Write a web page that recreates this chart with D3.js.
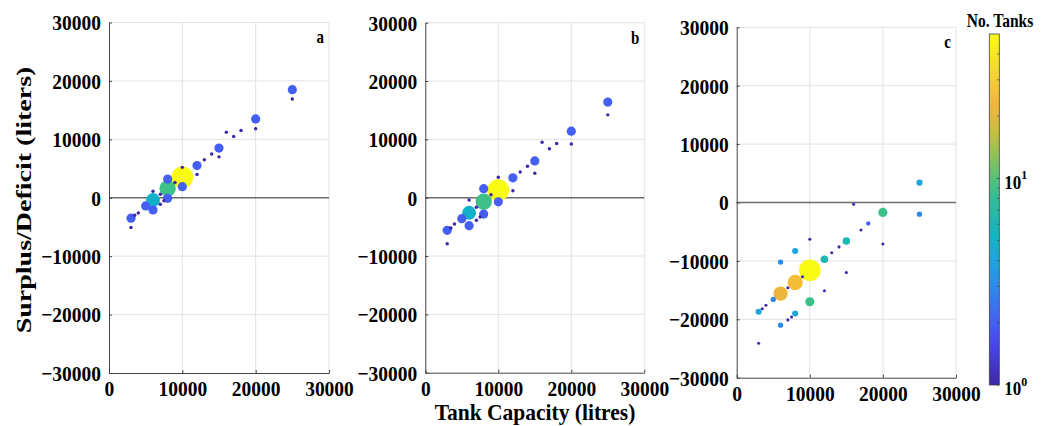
<!DOCTYPE html>
<html>
<head>
<meta charset="utf-8">
<script src="https://cdn.jsdelivr.net/npm/d3@7"></script>
<style>
  body { margin: 0; background: #fff; }
  svg { display: block; }
  text { font-family: "Liberation Serif", "Times New Roman", serif; font-weight: bold; fill: #000; }
</style>
</head>
<body>
<div class="canvas"></div>
<script>
// tank capacity (litres), surplus/deficit (litres), number of tanks
const capA = [3000,3000,3500,4000,5000,6000,6000,6000,7000,7000,7500,8000,8000,8000,9000,10000,10000,10000,12000,12000,13000,14000,15000,15000,16000,17000,18000,20000,20000,25000,25000];
const valA = [-3500,-5100,-3000,-2600,-1400,-2100,-400,1100,-1100,600,-500,3200,1600,-100,2600,5200,3500,1900,5500,4000,6500,7500,8500,7000,11200,10500,11500,13500,11800,18500,16900];
const nA   = [2,1,1,1,2,2,5,1,1,1,1,2,9,2,1,1,50,2,2,1,1,1,2,1,1,1,1,2,1,2,1];

const capB = [3000,3000,3500,4000,5000,6000,6000,6000,7000,7000,7500,8000,8000,8000,9000,10000,10000,10000,12000,12000,13000,14000,15000,15000,16000,17000,18000,20000,20000,25000,25000];
const valB = [-5600,-7900,-5200,-4500,-3600,-4800,-2600,-400,-3850,-1650,-3300,-2800,-700,1550,500,3500,1300,-700,3400,1200,4400,5400,6300,4200,9500,8400,9300,11400,9200,16400,14200];
const nB   = [2,1,1,1,2,2,5,1,1,1,1,2,9,2,1,1,50,2,2,1,1,1,2,1,1,1,1,2,1,2,1];

const capC = [3000,3000,3500,4000,5000,6000,6000,6000,7000,7500,7000,8000,8000,8000,9000,10000,10000,10000,12000,12000,13000,14000,15000,15000,16000,17000,18000,20000,20000,25000,25000];
const valC = [-18700,-24100,-18200,-17600,-16600,-10200,-15600,-21000,-14600,-19600,-20100,-8300,-13700,-19000,-12700,-6300,-11600,-17000,-9700,-15100,-8600,-7600,-6600,-12000,-300,-4700,-3600,-1700,-7100,3400,-2000];
const nC   = [4,1,1,1,3,3,22,3,1,1,1,4,25,4,1,1,50,9,6,1,1,1,6,1,1,1,2,9,1,4,3];

const xTicks = [0, 10000, 20000, 30000];
const yTicks = [-30000, -20000, -10000, 0, 10000, 20000, 30000];
const cbMajor = [1, 10];
const cbMinor = [2, 3, 4, 5, 6, 7, 8, 9, 20, 30, 40];
const panelLetters = ['a', 'b', 'c'];

const W = 1045, H = 426;
const tickStretch = 1.1;

const svg = d3.select('.canvas').append('svg')
    .attr('width', W)
    .attr('height', H);

// parula-like colormap
const parula = d3.scaleLinear()
    .domain([0, 0.1, 0.18, 0.28, 0.35, 0.42, 0.47, 0.56, 0.65, 0.72, 0.8, 0.9, 1])
    .range(['#3e26a8','#4642e6','#4560f4','#2d8aed','#1ea5e0','#12b3c6','#1cb8b0','#3fc08a','#8cc358','#c7bf3e','#f2b53c','#f6d830','#f9fb15'])
    .clamp(true);
const cNorm = d3.scaleLog().domain([1, 50]).range([0, 1]).clamp(true);
const colour = n => parula(cNorm(n));

// marker area: panels a,b grow with log(count), panel c with count
const areaLog = d3.scaleLinear().domain([0, Math.log10(50)]).range([0, 119]);
const rLog = n => Math.sqrt(Math.max(3, areaLog(Math.log10(n))));
const rLin = d3.scaleSqrt().domain([0, 50]).range([0, 10.8]);

const panels = [
  { cap: capA, val: valA, n: nA, box: [109, 329, 22.5, 373], r: rLog },
  { cap: capB, val: valB, n: nB, box: [425.3, 644.3, 22.7, 372.7], r: rLog },
  { cap: capC, val: valC, n: nC, box: [736.7, 956, 27.3, 377.7], r: d => rLin(d) }
];

panels.forEach((p, i) => {
  const [l, r, t, b] = p.box;
  const x = d3.scaleLinear().domain([0, 30000]).range([l, r]);
  const y = d3.scaleLinear().domain([-30000, 30000]).range([b, t]);
  const g = svg.append('g');

  // grid
  g.selectAll('.gx').data(xTicks.slice(1)).enter().append('line')
    .attr('x1', d => x(d)).attr('x2', d => x(d))
    .attr('y1', t).attr('y2', b)
    .attr('stroke', '#e2e2e2').attr('stroke-width', 1);
  g.selectAll('.gy').data(yTicks.filter(d => d !== -30000)).enter().append('line')
    .attr('x1', l).attr('x2', r)
    .attr('y1', d => y(d)).attr('y2', d => y(d))
    .attr('stroke', '#e2e2e2').attr('stroke-width', 1);

  // zero line
  g.append('line')
    .attr('x1', x(0)).attr('x2', x(30000))
    .attr('y1', y(0)).attr('y2', y(0))
    .attr('stroke', '#6e6e6e').attr('stroke-width', 1.5);

  // axes
  const ya = g.append('g').attr('transform', `translate(${l},0)`)
    .call(d3.axisLeft(y).tickValues(yTicks).tickSizeInner(-3).tickSizeOuter(0).tickPadding(8).tickFormat(d3.format('d')));
  const xa = g.append('g').attr('transform', `translate(0,${b})`)
    .call(d3.axisBottom(x).tickValues(xTicks).tickSizeInner(-3).tickSizeOuter(0).tickFormat(d3.format('d')));
  [ya, xa].forEach(a => {
    a.attr('font-family', null).attr('font-size', null);
    a.select('.domain').attr('stroke', '#444');
    a.selectAll('.tick line').attr('stroke', '#444');
    a.selectAll('text').style('font-size', '19.5px')
      .attr('dy', null).attr('dominant-baseline', 'central');
  });
  ya.selectAll('text').attr('transform', `scale(1,${tickStretch})`);
  xa.selectAll('text').attr('y', null).attr('transform', `translate(0,15.5) scale(1,${tickStretch})`);

  // points, biggest first so small ones stay visible
  const pts = p.cap.map((c, k) => ({ c, v: p.val[k], n: p.n[k] }))
    .sort((u, w) => w.n - u.n);
  g.selectAll('.pt').data(pts).enter().append('circle')
    .attr('class', 'pt')
    .attr('cx', d => x(d.c))
    .attr('cy', d => y(d.v))
    .attr('r', d => p.r(d.n))
    .attr('fill', d => colour(d.n));

  // panel letter
  g.append('text')
    .attr('transform', `translate(${r - 5},${t + 15}) scale(1,1.2)`)
    .attr('text-anchor', 'end')
    .attr('dominant-baseline', 'central')
    .style('font-size', '15px')
    .text(panelLetters[i]);
});

// axis titles
svg.append('text')
  .attr('transform', `translate(24,200) scale(1,1.4) rotate(-90)`)
  .attr('text-anchor', 'middle')
  .attr('dominant-baseline', 'central')
  .style('font-size', '20px')
  .text('Surplus/Deficit (liters)');

svg.append('text')
  .attr('transform', `translate(535,412) scale(1,1.1)`)
  .attr('text-anchor', 'middle')
  .attr('dominant-baseline', 'central')
  .style('font-size', '21.5px')
  .text('Tank Capacity (litres)');

// colour bar
const cb = { l: 989.3, r: 999.3, t: 34, b: 385 };
const cy = d3.scaleLog().domain([1, 50]).range([cb.b, cb.t]);
const grad = svg.append('defs').append('linearGradient')
  .attr('id', 'cbgrad').attr('x1', 0).attr('x2', 0).attr('y1', 1).attr('y2', 0);
grad.selectAll('stop').data(d3.range(0, 1.0001, 0.02)).enter().append('stop')
  .attr('offset', d => d)
  .attr('stop-color', d => parula(d));
svg.append('rect')
  .attr('x', cb.l).attr('y', cb.t)
  .attr('width', cb.r - cb.l).attr('height', cb.b - cb.t)
  .attr('fill', 'url(#cbgrad)')
  .attr('stroke', '#444').attr('stroke-width', 0.8);

svg.selectAll('.cbminor').data(cbMinor).enter().append('line')
  .attr('x1', cb.r - 2).attr('x2', cb.r)
  .attr('y1', d => cy(d)).attr('y2', d => cy(d))
  .attr('stroke', '#444').attr('stroke-width', 0.8);
svg.selectAll('.cbmajor').data(cbMajor).enter().append('line')
  .attr('x1', cb.r - 3).attr('x2', cb.r)
  .attr('y1', d => cy(d)).attr('y2', d => cy(d))
  .attr('stroke', '#444').attr('stroke-width', 0.8);

const cbLab = svg.selectAll('.cblab').data(cbMajor).enter().append('text')
  .attr('transform', d => `translate(${cb.r + 5},${cy(d) + 4}) scale(1,1.1)`)
  .attr('dominant-baseline', 'central')
  .style('font-size', '17px');
cbLab.append('tspan').text('10');
cbLab.append('tspan').attr('dy', -7).style('font-size', '12px').text(d => Math.round(Math.log10(d)));

svg.append('text')
  .attr('transform', `translate(1000,20) scale(1,1.25)`)
  .attr('text-anchor', 'middle')
  .attr('dominant-baseline', 'central')
  .style('font-size', '15.5px')
  .text('No. Tanks');
</script>
</body>
</html>
